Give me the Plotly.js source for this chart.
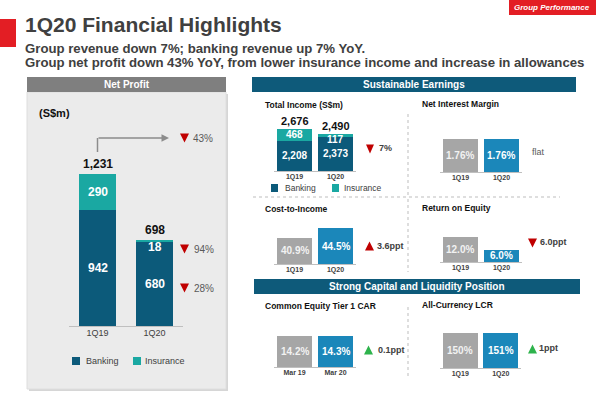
<!DOCTYPE html>
<html>
<head>
<meta charset="utf-8">
<script src="https://cdn.plot.ly/plotly-3.0.1.min.js"></script>
<style>html,body{margin:0;padding:0;background:#fff;}#chart{width:600px;height:397px;}</style>
</head>
<body>
<div id="chart"></div>
<script>
// ---------- data ----------
const quarters = ['1Q19', '1Q20'];
const capPeriods = ['Mar 19', 'Mar 20'];
const npBanking = [942, 680];
const npInsurance = [290, 18];
const npTotal = [1231, 698];
const npChanges = ['43%', '94%', '28%'];
const tiBanking = [2208, 2373];
const tiInsurance = [468, 117];
const tiTotal = [2676, 2490];
const tiChange = '7%';
const nim = [1.76, 1.76];
const nimChange = 'flat';
const cir = [40.9, 44.5];
const cirChange = '3.6ppt';
const roe = [12.0, 6.0];
const roeChange = '6.0ppt';
const cet1 = [14.2, 14.3];
const cet1Change = '0.1ppt';
const lcr = [150, 151];
const lcrChange = '1ppt';

// ---------- helpers ----------
const W = 600, H = 397;
const FONT = 'Arial, "Liberation Sans", sans-serif';
const px = v => v / W;
const py = v => 1 - v / H;
const C_BANK = '#0c5a7a', C_INS = '#1aa8a2', C_GRAY = '#a6a6a6', C_BLUE = '#1b87ba';
const C_RED = '#c00000', C_GREEN = '#2eb34c', C_TXT = '#404040';
const fmt = v => v.toLocaleString('en-US');

const shapes = [];
const ann = [];
function rect(x0, y0, x1, y1, fill, line) {
  shapes.push({type: 'rect', xref: 'paper', yref: 'paper', x0: px(x0), x1: px(x1), y0: py(y1), y1: py(y0),
    fillcolor: fill, line: {color: line || fill, width: line ? 1 : 0}, layer: 'below'});
}
function tri(x0, x1, yc, h, up, color) {
  const xm = (x0 + x1) / 2;
  const yt = yc - h / 2, yb = yc + h / 2;
  let p;
  if (up) p = `M${px(x0)},${py(yb)} L${px(x1)},${py(yb)} L${px(xm)},${py(yt)} Z`;
  else p = `M${px(x0)},${py(yt)} L${px(x1)},${py(yt)} L${px(xm)},${py(yb)} Z`;
  shapes.push({type: 'path', xref: 'paper', yref: 'paper', path: p, fillcolor: color, line: {width: 0}});
}
function dline(x0, y0, x1, y1) {
  shapes.push({type: 'line', xref: 'paper', yref: 'paper', x0: px(x0), x1: px(x1), y0: py(y0), y1: py(y1),
    line: {color: '#bdbdbd', width: 1, dash: 'dot'}});
}
function text(x, y, t, size, opts) {
  opts = opts || {};
  ann.push(Object.assign({xref: 'paper', yref: 'paper', x: px(x), y: py(y), text: t, showarrow: false,
    xanchor: 'left', yanchor: 'middle', font: {family: FONT, size: size, color: opts.color || C_TXT}}, opts.extra || {}));
}
// label on data coordinates
function dlabel(ax, x, y, t, size, color, extra) {
  ann.push(Object.assign({xref: ax.x, yref: ax.y, x: x, y: y, text: '<b>' + t + '</b>', showarrow: false,
    xanchor: 'center', yanchor: 'middle', font: {family: FONT, size: size, color: color}}, extra || {}));
}

// ---------- page decoration ----------
rect(509, 0, 596, 15, '#e31e24');
text(552, 8, '<b><i>Group Performance</i></b>', 8, {color: '#fff', extra: {xanchor: 'center'}});
rect(0, 19, 16, 47, '#e31e24');
text(23, 25, '<b>1Q20 Financial Highlights</b>', 21);
text(23, 48, '<b>Group revenue down 7%; banking revenue up 7% YoY.</b>', 13.2);
text(23, 62.5, '<b>Group net profit down 43% YoY, from lower insurance income and increase in allowances</b>', 13.2);

// left panel
rect(29, 94, 228, 391, '#d6d6d6');
rect(27, 92, 226, 389, '#ebebeb', '#dedede');
rect(27, 77, 226, 92, '#7f7f7f');
text(126.5, 84.5, '<b>Net Profit</b>', 10, {color: '#fff', extra: {xanchor: 'center'}});
text(37, 113, '<b>(S$m)</b>', 11, {color: '#111'});

// right headers
rect(252, 77, 576, 92, '#0e5a7a');
text(414, 84.5, '<b>Sustainable Earnings</b>', 10, {color: '#fff', extra: {xanchor: 'center'}});
rect(254, 279, 580, 294, '#0e5a7a');
text(417, 286.5, '<b>Strong Capital and Liquidity Position</b>', 10, {color: '#fff', extra: {xanchor: 'center'}});

// dividers
dline(408, 114, 408, 196);
dline(253, 197, 560, 197);
dline(408, 199, 408, 272);
dline(408, 307, 408, 377);

// section titles
text(263, 105, '<b>Total Income (S$m)</b>', 8.5, {color: '#111'});
text(420, 104, '<b>Net Interest Margin</b>', 8.5, {color: '#111'});
text(263, 209, '<b>Cost-to-Income</b>', 8.5, {color: '#111'});
text(420, 208, '<b>Return on Equity</b>', 8.5, {color: '#111'});
text(263, 306, '<b>Common Equity Tier 1 CAR</b>', 8.5, {color: '#111'});
text(420, 305, '<b>All-Currency LCR</b>', 8.5, {color: '#111'});

// legends (manual swatches)
rect(72, 357, 80, 365, C_BANK);
text(84, 361, 'Banking', 9);
rect(133, 357, 141, 365, C_INS);
text(143, 361, 'Insurance', 9);
rect(271, 184, 278, 192, C_BANK);
text(283, 188, 'Banking', 8.5);
rect(332, 184, 339, 192, C_INS);
text(342, 188, 'Insurance', 8.5);

// change indicators
tri(180, 189, 138, 9, false, C_RED); text(191, 138, npChanges[0], 10, {color: '#595959'});
tri(180, 189, 249, 9, false, C_RED); text(192, 249, npChanges[1], 10, {color: '#595959'});
tri(180, 189, 288, 9, false, C_RED); text(192, 288, npChanges[2], 10, {color: '#595959'});
tri(366, 374, 149, 9, false, C_RED); text(377, 148, '<b>' + tiChange + '</b>', 9);
text(530, 152, nimChange, 9, {color: '#595959'});
tri(365, 374, 246, 9, true, C_RED); text(375, 246, '<b>' + cirChange + '</b>', 9);
tri(528, 537, 243, 9, false, C_RED); text(538, 242, '<b>' + roeChange + '</b>', 9);
tri(364, 373, 350, 9, true, C_GREEN); text(376, 350, '<b>' + cet1Change + '</b>', 9);
tri(528, 537, 349, 9, true, C_GREEN); text(537, 348, '<b>' + lcrChange + '</b>', 9);

// net profit arrow
shapes.push({type: 'line', xref: 'x', yref: 'paper', x0: 0, x1: 0, y0: py(152), y1: py(138), line: {color: '#8c8c8c', width: 1.5}});
ann.push({xref: 'paper', yref: 'paper', x: px(169), y: py(138), ax: -72, ay: 0, text: '', showarrow: true,
  arrowhead: 2, arrowsize: 1, arrowwidth: 1.5, arrowcolor: '#8c8c8c'});

// ---------- subplots ----------
const traces = [];
const layout = {
  width: W, height: H, margin: {l: 0, r: 0, t: 0, b: 0}, paper_bgcolor: '#fff', plot_bgcolor: 'rgba(0,0,0,0)',
  barmode: 'stack', showlegend: false, hovermode: false, font: {family: FONT, color: C_TXT},
  shapes: shapes, annotations: ann
};
function axes(n, xd, yd, range, cats, tfsize, tfbold, standoff) {
  const sx = n === 1 ? '' : String(n);
  layout['xaxis' + sx] = {domain: [px(xd[0]), px(xd[1])], type: 'category', categoryarray: cats, range: [-0.5, 1.5],
    showline: true, linecolor: '#bfbfbf', linewidth: 1, ticks: '', showgrid: false, zeroline: false, fixedrange: true,
    anchor: 'y' + sx, ticklabelstandoff: standoff,
    tickfont: {family: FONT, size: tfsize, color: C_TXT, weight: tfbold ? 'bold' : 'normal'}};
  layout['yaxis' + sx] = {domain: [py(yd[1]), py(yd[0])], range: range, visible: false, showgrid: false,
    zeroline: false, fixedrange: true, anchor: 'x' + sx};
  return {x: 'x' + sx, y: 'y' + sx, lo: range[0]};
}
function barTrace(ax, cats, vals, color, width) {
  return {type: 'bar', x: cats, y: vals, xaxis: ax.x, yaxis: ax.y, width: width,
    marker: {color: color, line: {width: 0}}, textposition: 'none', cliponaxis: true};
}

// Net profit
const a1 = axes(1, [69, 183], [174, 326], [0, npTotal[0]], quarters, 9, false, -2);
traces.push(barTrace(a1, quarters, npBanking, C_BANK, 0.65));
traces.push(barTrace(a1, quarters, npInsurance, C_INS, 0.65));
quarters.forEach((q, i) => {
  dlabel(a1, q, (a1.lo + npBanking[i]) / 2, fmt(npBanking[i]), 12, '#fff');
  if (i === 0) dlabel(a1, q, npBanking[i] + npInsurance[i] / 2, fmt(npInsurance[i]), 12, '#fff');
  else dlabel(a1, q, npBanking[i], fmt(npInsurance[i]), 12, '#fff', {yanchor: 'top', yshift: 4});
  dlabel(a1, q, npTotal[i], fmt(npTotal[i]), 12, '#111', {yanchor: 'bottom', yshift: 1});
});

// Total income
const a2 = axes(2, [274, 356], [129, 171], [1038, tiTotal[0]], quarters, 7, true, -1);
traces.push(barTrace(a2, quarters, tiBanking, C_BANK, 0.86));
traces.push(barTrace(a2, quarters, tiInsurance, C_INS, 0.86));
quarters.forEach((q, i) => {
  dlabel(a2, q, (a2.lo + tiBanking[i]) / 2, fmt(tiBanking[i]), 10, '#fff');
  if (i === 0) dlabel(a2, q, tiBanking[i] + tiInsurance[i] / 2, fmt(tiInsurance[i]), 10, '#fff');
  else dlabel(a2, q, tiBanking[i], fmt(tiInsurance[i]), 10, '#fff', {yanchor: 'top', yshift: 5});
  dlabel(a2, q, tiTotal[i], fmt(tiTotal[i]), 11, '#111', {yanchor: 'bottom', yshift: 0});
});

function single(n, xd, yd, range, cats, vals, labels) {
  const a = axes(n, xd, yd, range, cats, 7, true, -1);
  traces.push(barTrace(a, cats, vals, [C_GRAY, C_BLUE], 0.87));
  cats.forEach((c, i) => dlabel(a, c, (a.lo + vals[i]) / 2, labels[i], 10, i === 0 ? '#f2f2f2' : '#fff'));
}
single(3, [440, 522], [139, 172], [0, 1.76], quarters, nim, nim.map(v => v.toFixed(2) + '%'));
single(4, [274, 356], [228, 264], [31.5, 44.5], quarters, cir, cir.map(v => v.toFixed(1) + '%'));
single(5, [440, 522], [237, 262], [0, 12], quarters, roe, roe.map(v => v.toFixed(1) + '%'));
single(6, [274, 356], [336, 367], [0, 14.3], capPeriods, cet1, cet1.map(v => v.toFixed(1) + '%'));
single(7, [440, 521], [333, 368], [0, 151], quarters, lcr, lcr.map(v => v + '%'));

Plotly.newPlot('chart', traces, layout, {staticPlot: true, displayModeBar: false});
</script>
</body>
</html>
